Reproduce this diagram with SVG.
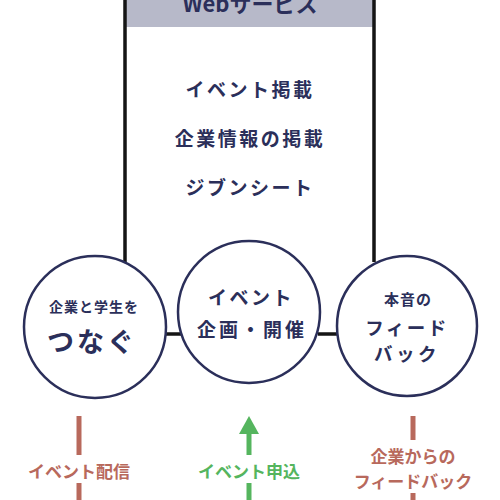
<svg xmlns="http://www.w3.org/2000/svg" width="500" height="500" viewBox="0 0 500 500">
<style>
.t{font-family:"Noto Sans CJK JP","Noto Sans",sans-serif;font-weight:bold;fill:#2b2f5a;text-anchor:middle}
.b{font-family:"Noto Sans CJK JP","Noto Sans",sans-serif;font-weight:bold;fill:#b8695c;text-anchor:middle}
.g{font-family:"Noto Sans CJK JP","Noto Sans",sans-serif;font-weight:bold;fill:#55b55e;text-anchor:middle}
.c{fill:#fff;stroke:#2b2f5a;stroke-width:2.5}
.ln{stroke:#151515;stroke-width:3.5;fill:none}
.br{stroke:#b8695c;stroke-width:5}
.gr{stroke:#55b55e;stroke-width:5}
</style>
<rect width="500" height="500" fill="#fff"/>
<g id="web-service">
<rect x="125" y="-2" width="249" height="29" fill="#b7b9c9"/>
<text class="t" x="250" y="12" font-size="22">Webサービス</text>
<text class="t" x="250" y="97" font-size="19" letter-spacing="2.5">イベント掲載</text>
<text class="t" x="250" y="146" font-size="19" letter-spacing="2.5">企業情報の掲載</text>
<text class="t" x="250" y="195" font-size="19" letter-spacing="2.5">ジブンシート</text>
</g>
<g id="connectors">
<path class="ln" d="M125,-2 V262 M374,-2 V262 M125,-2 H374"/>
<path class="ln" d="M160,334 H182 M318,334 H340"/>
<line class="br" x1="79" y1="416" x2="79" y2="455"/>
<line class="br" x1="79" y1="483" x2="79" y2="500"/>
<line class="gr" x1="249" y1="432" x2="249" y2="455"/>
<polygon points="249,416 239,434 259,434" fill="#55b55e"/>
<line class="gr" x1="249" y1="483" x2="249" y2="500"/>
<line class="br" x1="413" y1="416" x2="413" y2="440"/>
<line class="br" x1="413" y1="493" x2="413" y2="500"/>
</g>
<g id="node-connect">
<circle class="c" cx="95" cy="327" r="71"/>
<text class="t" x="94" y="312" font-size="14" letter-spacing="1">企業と学生を</text>
<text class="t" x="92" y="352" font-size="27" letter-spacing="3">つなぐ</text>
</g>
<g id="node-event">
<circle class="c" cx="249" cy="312" r="71"/>
<text class="t" x="251" y="305" font-size="19" letter-spacing="2.5">イベント</text>
<text class="t" x="252" y="337" font-size="19" letter-spacing="3">企画・開催</text>
</g>
<g id="node-feedback">
<circle class="c" cx="407" cy="326" r="70"/>
<text class="t" x="408" y="305" font-size="15" letter-spacing="1">本音の</text>
<text class="t" x="407" y="335" font-size="18.5" letter-spacing="2.5">フィード</text>
<text class="t" x="407" y="361" font-size="18.5" letter-spacing="3.5">バック</text>
</g>
<g id="label-delivery"><text class="b" x="79" y="478" font-size="17">イベント配信</text></g>
<g id="label-apply"><text class="g" x="249" y="478" font-size="17">イベント申込</text></g>
<g id="label-feedback">
<text class="b" x="413" y="463" font-size="17">企業からの</text>
<text class="b" x="413" y="488" font-size="17">フィードバック</text>
</g>
</svg>
